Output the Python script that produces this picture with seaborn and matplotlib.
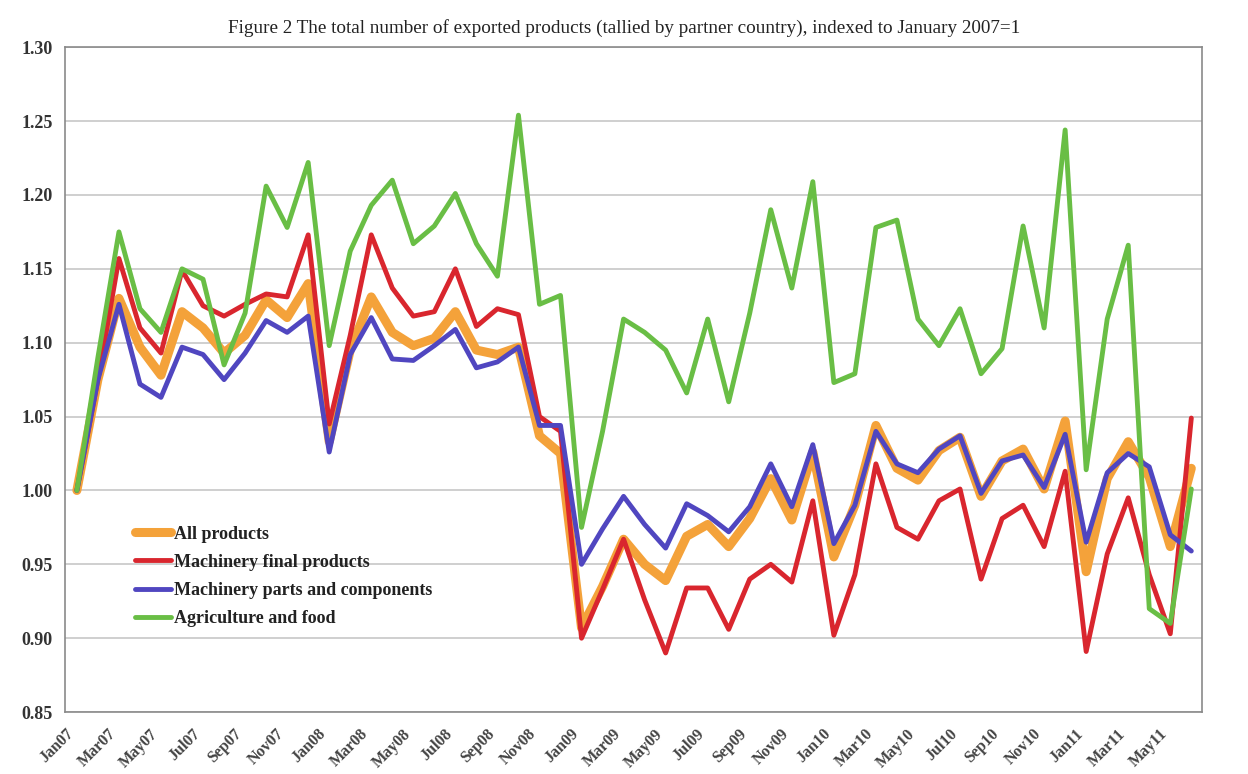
import matplotlib
matplotlib.use("Agg")
import matplotlib.pyplot as plt
import matplotlib.transforms as mtransforms
import numpy as np
import pandas as pd
import seaborn as sns

# monthly index values, Jan07 .. Jun11
months = pd.date_range("2007-01-01", periods=54, freq="MS").strftime("%b%y").tolist()

all_products = [
    1.000, 1.075, 1.130, 1.097, 1.078, 1.121, 1.110, 1.093, 1.105, 1.129,
    1.117, 1.140, 1.033, 1.095, 1.131, 1.107, 1.098, 1.103, 1.121, 1.095,
    1.092, 1.097, 1.037, 1.025, 0.907, 0.935, 0.967, 0.950, 0.939, 0.969,
    0.977, 0.962, 0.981, 1.008, 0.980, 1.026, 0.955, 0.990, 1.044, 1.015,
    1.007, 1.027, 1.036, 0.996, 1.020, 1.028, 1.001, 1.047, 0.945, 1.008,
    1.033, 1.009, 0.962, 1.015,
]
machinery_final = [
    1.000, 1.075, 1.157, 1.110, 1.093, 1.149, 1.125, 1.118, 1.126, 1.133,
    1.131, 1.173, 1.045, 1.105, 1.173, 1.137, 1.118, 1.121, 1.150, 1.111,
    1.123, 1.119, 1.050, 1.040, 0.900, 0.933, 0.967, 0.926, 0.890, 0.934,
    0.934, 0.906, 0.940, 0.950, 0.938, 0.993, 0.902, 0.943, 1.018, 0.975,
    0.967, 0.993, 1.001, 0.940, 0.981, 0.990, 0.962, 1.013, 0.891, 0.957,
    0.995, 0.943, 0.903, 1.049,
]
machinery_parts = [
    1.000, 1.075, 1.126, 1.072, 1.063, 1.097, 1.092, 1.075, 1.093, 1.115,
    1.107, 1.118, 1.026, 1.092, 1.117, 1.089, 1.088, 1.098, 1.109, 1.083,
    1.087, 1.097, 1.044, 1.044, 0.950, 0.974, 0.996, 0.977, 0.961, 0.991,
    0.983, 0.972, 0.989, 1.018, 0.989, 1.031, 0.964, 0.990, 1.040, 1.018,
    1.012, 1.028, 1.037, 0.998, 1.020, 1.024, 1.002, 1.038, 0.965, 1.012,
    1.025, 1.016, 0.970, 0.959,
]
agri_food = [
    1.000, 1.090, 1.175, 1.123, 1.107, 1.150, 1.143, 1.085, 1.120, 1.206,
    1.178, 1.222, 1.098, 1.162, 1.193, 1.210, 1.167, 1.179, 1.201, 1.167,
    1.145, 1.254, 1.126, 1.132, 0.975, 1.040, 1.116, 1.107, 1.095, 1.066,
    1.116, 1.060, 1.120, 1.190, 1.137, 1.209, 1.073, 1.079, 1.178, 1.183,
    1.116, 1.098, 1.123, 1.079, 1.096, 1.179, 1.110, 1.244, 1.014, 1.116,
    1.166, 0.920, 0.910, 1.001,
]

series_names = [
    "All products",
    "Machinery final products",
    "Machinery parts and components",
    "Agriculture and food",
]
series_values = [all_products, machinery_final, machinery_parts, agri_food]
colors = ["#F4A23A", "#D9262E", "#5046C0", "#69BE45"]
widths = [6.5, 3.5, 3.5, 3.5]

sns.set_style("white")
plt.rcParams["font.family"] = ["Liberation Serif", "DejaVu Serif"]

fig = plt.figure(figsize=(12.48, 7.74), dpi=100)
ax = fig.add_axes([0.052, 0.080, 0.911, 0.859])

x = np.arange(len(months))
for name, vals, col, lw in zip(series_names, series_values, colors, widths):
    frame = pd.DataFrame({"month": x, "value": vals})
    sns.lineplot(data=frame, x="month", y="value", ax=ax, color=col,
                 linewidth=lw, label=name, solid_joinstyle="round")

ax.set_xlim(-0.57, 53.5)
ax.set_ylim(0.85, 1.30)
yt = np.arange(0.85, 1.301, 0.05)
ax.set_yticks(yt)
ax.set_yticklabels([f"{v:.2f}" for v in yt],
                   fontsize=13, fontweight="bold", color="#333333")
ax.set_xticks(x[::2])
ax.set_xticklabels(months[::2], rotation=45, ha="right", rotation_mode="anchor",
                   fontsize=11.5, fontweight="bold", color="#444444")
ax.tick_params(axis="y", length=0, pad=9)
ax.tick_params(axis="x", length=0, pad=10)
shift = mtransforms.ScaledTranslation(-11 / 100, 0, fig.dpi_scale_trans)
for lbl in ax.get_xticklabels():
    lbl.set_transform(lbl.get_transform() + shift)
ax.grid(axis="y", color="#cfcfcf", linewidth=1.4)
ax.set_axisbelow(True)
ax.set_xlabel("")
ax.set_ylabel("")
for sp in ax.spines.values():
    sp.set_color("#8a8a8a")
    sp.set_linewidth(1.2)

ax.legend(loc="upper left", bbox_to_anchor=(0.047, 0.305), frameon=False,
          handlelength=2.0, handletextpad=0.2, labelspacing=0.62,
          prop={"size": 13, "weight": "bold"})
for txt in ax.get_legend().get_texts():
    txt.set_color("#222222")

fig.text(0.5, 1 - 28 / 774, "Figure 2 The total number of exported products "
         "(tallied by partner country), indexed to January 2007=1",
         ha="center", va="center", fontsize=13.8, color="#222222")

fig.savefig("out.png", dpi=100, facecolor="white")
